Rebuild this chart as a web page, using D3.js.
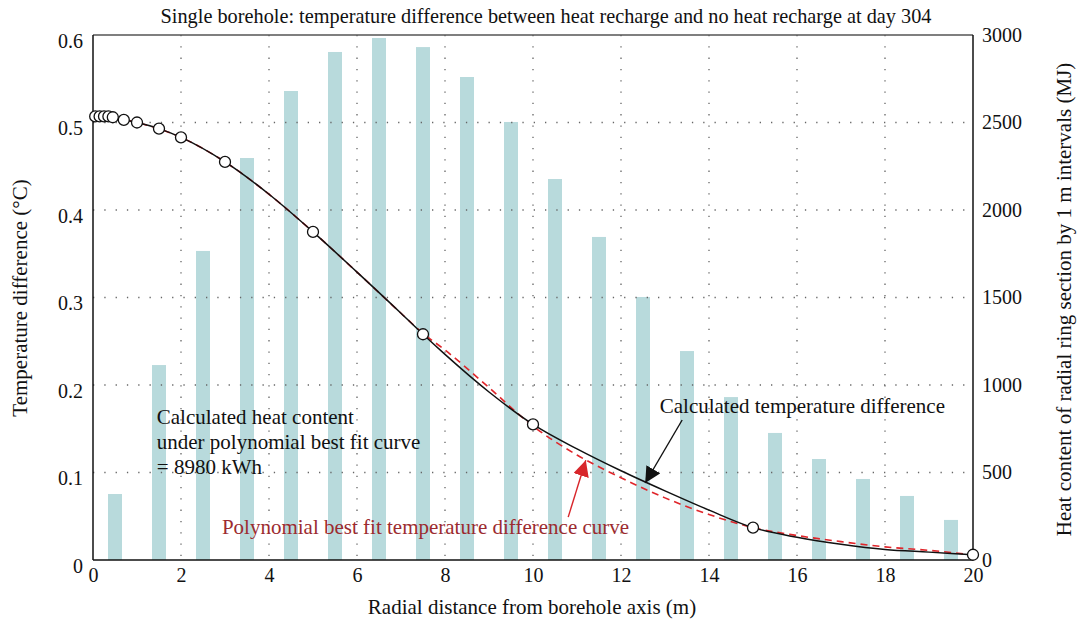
<!DOCTYPE html>
<html>
<head>
<meta charset="utf-8">
<script src="https://cdnjs.cloudflare.com/ajax/libs/d3/7.8.5/d3.min.js"></script>
<style>
body { margin:0; background:#fff; }
text { font-family:"Liberation Serif","DejaVu Serif",serif; fill:#111; }
</style>
</head>
<body>
<svg id="chart"></svg>
<script>
// bar data: heat content per 1 m ring (MJ)
var barX = [0.5,1.5,2.5,3.5,4.5,5.5,6.5,7.5,8.5,9.5,10.5,11.5,12.5,13.5,14.5,15.5,16.5,17.5,18.5,19.5];
var barMJ = [377,1114,1766,2297,2680,2903,2983,2931,2760,2503,2177,1846,1503,1194,931,726,577,463,366,229];

// calculated temperature difference (black line)
var calcX = [0.05,0.15,0.25,0.35,0.45,0.7,1,1.5,2,3,4,5,6,7,7.5,8,9,10,11,12,13,14,15,16,17,18,19,20];
var calcY = [0.507,0.507,0.507,0.507,0.506,0.503,0.500,0.493,0.483,0.455,0.418,0.375,0.329,0.282,0.258,0.235,0.192,0.155,0.127,0.102,0.079,0.057,0.037,0.026,0.018,0.012,0.009,0.006];
// points with circle markers
var markX = [0.05,0.15,0.25,0.35,0.45,0.7,1,1.5,2,3,5,7.5,10,15,20];
var markY = [0.507,0.507,0.507,0.507,0.506,0.503,0.500,0.493,0.483,0.455,0.375,0.258,0.155,0.037,0.006];

// polynomial best fit (red dashed)
var fitX = [0,1,2,3,4,5,6,7,7.5,8,9,10,11,12,13,14,15,16,17,18,19,20];
var fitY = [0.508,0.500,0.483,0.455,0.418,0.375,0.329,0.282,0.259,0.240,0.197,0.153,0.120,0.094,0.071,0.052,0.037,0.028,0.021,0.015,0.011,0.006];

var xTicks = [0,2,4,6,8,10,12,14,16,18,20];
var yTicks = [0,0.1,0.2,0.3,0.4,0.5,0.6];
var y2Ticks = [0,500,1000,1500,2000,2500,3000];

var screen = {width:1079, height:621};
var margins = {top:35, bottom:61, left:93, right:106};
var graph = {
    width: screen.width - margins.left - margins.right,
    height: screen.height - margins.top - margins.bottom
};

var svg = d3.select("#chart")
    .attr("width", screen.width)
    .attr("height", screen.height);

var xScale = d3.scaleLinear().domain([0,20]).range([0,graph.width]);
var yScale = d3.scaleLinear().domain([0,0.6]).range([graph.height,0]);
var y2Scale = d3.scaleLinear().domain([0,3000]).range([graph.height,0]);

var g = svg.append("g")
    .attr("transform","translate("+margins.left+","+margins.top+")");

// bars
g.selectAll("rect.bar")
    .data(barX)
    .enter()
    .append("rect")
    .attr("class","bar")
    .attr("x", function(d){ return xScale(d) - 7; })
    .attr("width", 14)
    .attr("y", function(d,i){ return y2Scale(barMJ[i]); })
    .attr("height", function(d,i){ return graph.height - y2Scale(barMJ[i]); })
    .attr("fill","#b8dadc");

// dotted grid
g.selectAll("line.vgrid")
    .data(xTicks.slice(1,-1))
    .enter().append("line")
    .attr("x1", function(d){ return xScale(d); })
    .attr("x2", function(d){ return xScale(d); })
    .attr("y1", 0).attr("y2", graph.height)
    .attr("stroke","#666").attr("stroke-width",1.3)
    .attr("stroke-dasharray","1.3,10");
g.selectAll("line.hgrid")
    .data(yTicks.slice(1,-1))
    .enter().append("line")
    .attr("y1", function(d){ return yScale(d); })
    .attr("y2", function(d){ return yScale(d); })
    .attr("x1", 0).attr("x2", graph.width)
    .attr("stroke","#666").attr("stroke-width",1.3)
    .attr("stroke-dasharray","1.3,10");

// frame
g.append("line").attr("x1",0).attr("x2",graph.width).attr("y1",0).attr("y2",0)
    .attr("stroke","#555").attr("stroke-width",1.5);
g.append("line").attr("x1",0).attr("x2",graph.width).attr("y1",graph.height).attr("y2",graph.height)
    .attr("stroke","#111").attr("stroke-width",1.5);
g.append("line").attr("x1",0).attr("x2",0).attr("y1",0).attr("y2",graph.height)
    .attr("stroke","#111").attr("stroke-width",1.5);
g.append("line").attr("x1",graph.width).attr("x2",graph.width).attr("y1",0).attr("y2",graph.height)
    .attr("stroke","#111").attr("stroke-width",1.5);

// axes (labels only)
var xAxis = d3.axisBottom(xScale).tickValues(xTicks).tickSize(0).tickPadding(8)
    .tickFormat(d3.format("d"));
var yAxis = d3.axisLeft(yScale).tickValues(yTicks).tickSize(0).tickPadding(10)
    .tickFormat(function(d){ return d === 0 ? "0" : d3.format(".1f")(d); });
var y2Axis = d3.axisRight(y2Scale).tickValues(y2Ticks).tickSize(0).tickPadding(9)
    .tickFormat(d3.format("d"));

var axes = g.append("g");
axes.append("g").attr("transform","translate(0,"+graph.height+")").call(xAxis);
var yAxisG = axes.append("g").call(yAxis);
axes.append("g").attr("transform","translate("+graph.width+",0)").call(y2Axis);
axes.selectAll(".domain").remove();
axes.selectAll("text")
    .style("font-family","'Liberation Serif',serif")
    .style("font-size","20px")
    .attr("fill","#111");
// left labels sit a little below their grid lines
yAxisG.selectAll(".tick text").attr("dy","0.62em");

// fitted curve
var lineFit = d3.line()
    .x(function(d){ return xScale(d); })
    .y(function(d,i){ return yScale(fitY[i]); })
    .curve(d3.curveMonotoneX);
g.append("path")
    .attr("d", lineFit(fitX))
    .attr("fill","none")
    .attr("stroke","#e0262b")
    .attr("stroke-width",1.6)
    .attr("stroke-dasharray","7,5");

// calculated curve
var lineCalc = d3.line()
    .x(function(d){ return xScale(d); })
    .y(function(d,i){ return yScale(calcY[i]); })
    .curve(d3.curveMonotoneX);
g.append("path")
    .attr("d", lineCalc(calcX))
    .attr("fill","none")
    .attr("stroke","#111")
    .attr("stroke-width",1.5);

g.selectAll("circle")
    .data(markX)
    .enter().append("circle")
    .attr("cx", function(d){ return xScale(d); })
    .attr("cy", function(d,i){ return yScale(markY[i]); })
    .attr("r", 5.5)
    .attr("fill","#fff")
    .attr("stroke","#111")
    .attr("stroke-width",1.3);

// arrow markers
var defs = svg.append("defs");
defs.append("marker").attr("id","headBlack")
    .attr("viewBox","0 0 10 10").attr("refX",10).attr("refY",5)
    .attr("markerWidth",16).attr("markerHeight",16).attr("markerUnits","userSpaceOnUse")
    .attr("orient","auto")
    .append("path").attr("d","M0,0 L10,5 L0,10 Z").attr("fill","#111");
defs.append("marker").attr("id","headRed")
    .attr("viewBox","0 0 10 10").attr("refX",10).attr("refY",5)
    .attr("markerWidth",16).attr("markerHeight",16).attr("markerUnits","userSpaceOnUse")
    .attr("orient","auto")
    .append("path").attr("d","M0,0 L10,5 L0,10 Z").attr("fill","#d8262b");

// annotations
g.append("line")
    .attr("x1",xScale(13.39)).attr("y1",yScale(0.16))
    .attr("x2",xScale(12.55)).attr("y2",yScale(0.088))
    .attr("stroke","#111").attr("stroke-width",1.4)
    .attr("marker-end","url(#headBlack)");
g.append("line")
    .attr("x1",xScale(10.8)).attr("y1",yScale(0.049))
    .attr("x2",xScale(11.2)).attr("y2",yScale(0.114))
    .attr("stroke","#d8262b").attr("stroke-width",1.4)
    .attr("marker-end","url(#headRed)");

g.append("text")
    .attr("x", xScale(12.88)).attr("y", yScale(0.175) + 6)
    .style("font-size","21px")
    .text("Calculated temperature difference");

var note = g.append("text")
    .attr("x", xScale(1.45)).attr("y", yScale(0.163) + 7)
    .style("font-size","21px");
["Calculated heat content","under polynomial best fit curve","= 8980 kWh"].forEach(function(s,i){
    note.append("tspan").attr("x", xScale(1.45)).attr("dy", i === 0 ? 0 : 25).text(s);
});

g.append("text")
    .attr("x", xScale(2.93)).attr("y", yScale(0.031) + 1)
    .style("font-size","21px")
    .style("fill","#9c2b2f")
    .text("Polynomial best fit temperature difference curve");

// titles
svg.append("text")
    .attr("x", 546).attr("y", 23)
    .attr("text-anchor","middle")
    .style("font-size","20.3px")
    .text("Single borehole: temperature difference between heat recharge and no heat recharge at day 304");

svg.append("text")
    .attr("x", 532).attr("y", 614)
    .attr("text-anchor","middle")
    .style("font-size","21px")
    .text("Radial distance from borehole axis (m)");

svg.append("text")
    .attr("transform","translate(27,298) rotate(-90)")
    .attr("text-anchor","middle")
    .style("font-size","21px")
    .text("Temperature difference (°C)");

svg.append("text")
    .attr("transform","translate(1071,"+(margins.top+graph.height/2 + 2)+") rotate(-90)")
    .attr("text-anchor","middle")
    .style("font-size","21px")
    .text("Heat content of radial ring section by 1 m intervals (MJ)");
</script>
</body>
</html>
